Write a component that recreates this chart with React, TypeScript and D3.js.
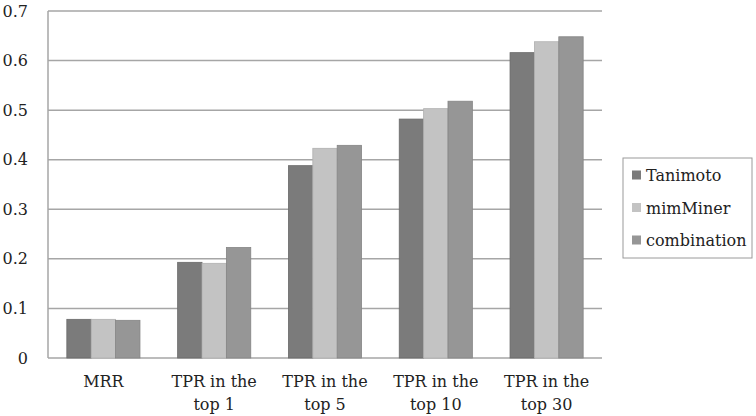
import React from "react";
import * as d3 from "d3";

const categories = ["MRR", "TPR in the top 1", "TPR in the top 5", "TPR in the top 10", "TPR in the top 30"];
const labelLines = [["MRR"], ["TPR in the", "top 1"], ["TPR in the", "top 5"], ["TPR in the", "top 10"], ["TPR in the", "top 30"]];
const seriesNames = ["Tanimoto", "mimMiner", "combination"];
const tanimoto = [0.078, 0.193, 0.388, 0.482, 0.616];
const mimMiner = [0.078, 0.191, 0.423, 0.503, 0.638];
const combination = [0.076, 0.223, 0.429, 0.518, 0.648];
const yTicks = [0, 0.1, 0.2, 0.3, 0.4, 0.5, 0.6, 0.7];

const colors = ["#7b7b7b", "#c3c3c3", "#969696"];
const strokes = ["#6a6a6a", "#b0b0b0", "#858585"];
const textStyle = { fontFamily: "DejaVu Serif, serif", fontSize: "16px" };

const App = () => {
  const width = 756;
  const height = 416;
  const left = 48;
  const right = 602;
  const top = 11;
  const bottom = 358;

  const series = [tanimoto, mimMiner, combination];

  const x = d3.scaleBand().domain(categories).range([left, right]).paddingInner(0.34).paddingOuter(0.17);
  const xInner = d3.scaleBand().domain(seriesNames).range([0, x.bandwidth()]);
  const y = d3.scaleLinear().domain([0, 0.7]).range([bottom, top]);

  return (
    <svg width={width} height={height} style={{ position: "absolute", left: 0, top: 0, background: "#fff" }}>
      {/* grid */}
      {yTicks.map((t) => (
        <line key={t} x1={left} x2={right} y1={y(t)} y2={y(t)} stroke="#a6a6a6" strokeWidth={1.5} />
      ))}
      <line x1={left} x2={left} y1={top} y2={bottom} stroke="#a6a6a6" strokeWidth={1.5} />
      {yTicks.map((t) => (
        <text key={t} x={28} y={y(t)} dy="0.35em" textAnchor="end" style={textStyle} fill="#222">
          {t === 0 ? "0" : d3.format(".1f")(t)}
        </text>
      ))}
      {/* bars */}
      {series.map((vals, si) =>
        vals.map((v, i) => (
          <rect
            key={si + "-" + i}
            x={(x(categories[i]) as number) + (xInner(seriesNames[si]) as number)}
            y={y(v)}
            width={xInner.bandwidth()}
            height={bottom - y(v)}
            fill={colors[si]}
            stroke={strokes[si]}
            strokeWidth={0.8}
          />
        ))
      )}
      {/* x labels */}
      {labelLines.map((lines, i) => (
        <text key={i} textAnchor="middle" style={textStyle} fill="#222">
          {lines.map((l, j) => (
            <tspan key={j} x={(x(categories[i]) as number) + x.bandwidth() / 2} y={387 + j * 23}>
              {l}
            </tspan>
          ))}
        </text>
      ))}
      {/* legend */}
      <rect x={623} y={158} width={129} height={100} fill="#fff" stroke="#9a9a9a" strokeWidth={1} />
      {seriesNames.map((n, i) => (
        <g key={n} transform={`translate(632, ${175.5 + i * 32.5})`}>
          <rect x={0} y={-5} width={9} height={9} fill={colors[i]} />
          <text x={14} y={0} dy="0.35em" style={textStyle} fill="#222">
            {n}
          </text>
        </g>
      ))}
    </svg>
  );
};

export default App;
